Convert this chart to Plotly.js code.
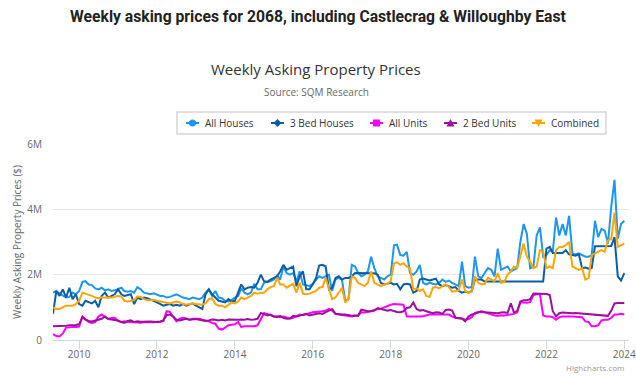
<!DOCTYPE html>
<html>
<head>
<meta charset="utf-8">
<script src="https://cdn.plot.ly/plotly-3.0.1.min.js"></script>
<style>
  html, body { margin: 0; padding: 0; background: #fff; }
  #chart { width: 636px; height: 376px; }
</style>
</head>
<body>
<div id="chart"></div>
<script>
// Monthly readings (millions of $), first point May 2009, last point Jan 2024.
var startYear = 2009, startMonth = 5;

var allHouses = [
  1.45,1.50,1.42,1.35,1.30,1.32,1.45,1.40,                       // 2009 May-Dec
  1.50,1.78,1.80,1.70,1.68,1.58,1.55,1.60,1.52,1.55,1.50,1.52,   // 2010
  1.55,1.60,1.50,1.48,1.50,1.45,1.62,1.55,1.45,1.42,1.40,1.43,   // 2011
  1.40,1.35,1.35,1.30,1.32,1.35,1.40,1.35,1.30,1.28,1.25,1.30,   // 2012
  1.28,1.25,1.30,1.45,1.55,1.35,1.50,1.30,1.28,1.20,1.18,1.22,   // 2013
  1.30,1.35,1.58,1.45,1.40,1.45,1.72,1.55,1.55,1.75,1.78,1.80,   // 2014
  1.85,1.98,1.85,2.25,2.05,2.00,2.05,1.80,2.10,1.70,1.68,1.65,   // 2015
  1.72,1.85,1.95,1.90,1.95,2.00,1.50,1.85,1.90,1.85,1.20,1.25,   // 2016
  2.30,2.25,2.05,1.95,2.00,2.10,2.55,2.20,1.95,1.90,1.85,1.95,   // 2017
  2.00,2.90,2.92,2.60,2.58,2.70,2.05,2.00,2.10,2.30,1.75,1.70,   // 2018
  1.75,1.72,1.70,1.75,1.85,1.78,1.82,1.75,1.70,1.65,2.40,1.65,   // 2019
  1.60,1.62,2.55,1.95,1.90,2.05,2.20,2.15,1.95,2.80,2.15,2.20,   // 2020
  2.25,2.10,2.15,2.20,3.00,3.55,3.25,2.20,2.25,3.20,3.45,2.55,   // 2021
  2.60,2.75,2.70,3.75,3.20,3.55,3.20,3.80,2.65,2.62,2.65,2.60,   // 2022
  2.55,2.55,2.60,3.65,3.15,3.40,3.35,2.95,4.10,4.90,3.10,3.55,   // 2023
  3.65                                                           // 2024 Jan
];

var threeBedHouses = [
  0.80,1.50,1.35,1.55,1.30,1.60,1.25,1.40,
  1.10,1.05,1.20,1.15,1.12,1.20,1.00,1.35,1.45,1.30,1.35,1.40,
  1.55,1.40,1.35,1.38,1.40,1.10,1.30,1.25,1.30,1.28,1.25,1.20,
  1.15,1.10,1.05,1.08,1.10,1.05,1.08,1.05,1.10,1.05,1.08,1.12,
  1.05,1.00,0.95,1.40,1.55,1.40,1.30,1.20,1.18,1.15,1.25,1.18,
  1.20,1.45,1.70,1.55,1.60,1.62,1.60,1.75,2.00,1.80,1.78,1.85,
  1.90,1.95,2.10,2.30,2.15,2.20,2.25,1.65,1.95,2.10,1.55,1.55,
  1.70,1.90,2.28,2.30,2.25,1.55,1.60,1.90,1.95,1.85,1.90,1.90,
  1.95,2.05,2.05,2.05,2.06,2.05,2.05,2.04,2.00,1.75,1.70,1.72,
  1.75,1.70,1.72,1.55,1.70,1.72,1.70,1.45,1.50,1.85,1.88,1.85,
  1.82,1.85,1.88,1.70,1.65,1.68,1.65,1.60,1.62,1.50,1.45,1.48,
  1.45,1.50,1.85,1.85,1.85,1.79,1.79,1.79,1.79,1.79,1.79,1.79,
  1.79,1.79,1.79,1.79,1.79,1.79,1.79,1.79,1.79,1.79,1.79,1.79,
  2.80,2.85,2.66,2.66,2.66,2.66,2.75,2.62,2.60,2.58,2.62,2.20,
  2.22,2.18,2.20,2.87,2.87,2.87,2.87,2.87,2.88,3.15,1.95,1.82,
  2.05
];

var allUnits = [
  0.18,0.12,0.11,0.20,0.38,0.40,0.40,0.40,
  0.41,0.72,0.65,0.55,0.52,0.55,0.72,0.78,0.70,0.65,0.67,0.68,
  0.58,0.55,0.57,0.56,0.54,0.55,0.54,0.53,0.55,0.54,0.55,0.54,
  0.56,0.55,0.58,0.88,0.86,0.70,0.57,0.65,0.68,0.66,0.62,0.65,
  0.65,0.65,0.62,0.60,0.57,0.52,0.50,0.35,0.32,0.38,0.45,0.47,
  0.48,0.55,0.40,0.42,0.42,0.40,0.42,0.45,0.62,0.82,0.80,0.75,
  0.72,0.73,0.70,0.72,0.68,0.66,0.68,0.72,0.78,0.76,0.80,0.82,
  0.85,0.86,0.85,0.88,0.90,0.95,0.90,0.80,0.78,0.76,0.75,0.73,
  0.72,0.74,0.75,0.85,0.84,0.86,0.88,0.92,0.95,0.96,1.00,1.05,
  1.08,1.10,1.10,1.08,1.08,0.72,0.72,0.70,0.71,0.72,0.73,0.76,
  0.78,0.78,0.78,0.80,0.78,0.80,0.78,0.72,0.68,0.67,0.66,0.62,
  0.64,0.70,0.83,0.85,0.86,0.85,0.82,0.78,0.75,0.74,0.76,0.75,
  0.76,0.78,0.80,0.85,1.15,1.15,1.14,1.16,1.38,1.40,1.40,0.75,
  0.72,0.72,0.70,0.62,0.70,0.72,0.73,0.72,0.72,0.71,0.72,0.70,
  0.57,0.55,0.42,0.42,0.45,0.60,0.62,0.62,0.68,0.78,0.78,0.80,
  0.78
];

var twoBedUnits = [
  0.42,0.42,0.43,0.44,0.44,0.45,0.45,0.46,
  0.48,0.70,0.62,0.58,0.57,0.60,0.62,0.65,0.72,0.64,0.63,0.62,
  0.60,0.55,0.52,0.58,0.60,0.55,0.57,0.56,0.57,0.58,0.57,0.56,
  0.55,0.57,0.60,0.76,0.78,0.72,0.62,0.60,0.62,0.65,0.62,0.63,
  0.64,0.62,0.60,0.58,0.60,0.63,0.62,0.60,0.62,0.60,0.63,0.62,
  0.63,0.62,0.63,0.62,0.64,0.62,0.63,0.65,0.83,0.80,0.75,0.78,
  0.72,0.70,0.74,0.68,0.65,0.66,0.74,0.72,0.75,0.78,0.80,0.75,
  0.78,0.80,0.82,0.80,0.85,0.92,0.95,0.80,0.78,0.78,0.78,0.76,
  0.74,0.75,0.74,0.93,0.90,0.88,0.88,0.90,0.98,0.96,0.92,0.90,
  0.92,0.88,0.86,0.85,0.88,0.98,1.00,1.15,0.95,0.90,0.92,0.88,
  0.85,0.82,0.85,0.84,0.80,0.92,0.93,0.90,0.68,0.66,0.65,0.57,
  0.72,0.78,0.80,0.85,0.88,0.85,0.84,0.83,0.83,0.82,0.84,0.85,
  0.83,1.12,0.85,0.88,1.18,1.22,1.22,1.25,1.42,1.42,1.43,1.42,
  1.41,1.38,0.88,0.72,0.82,0.84,0.83,0.84,0.82,0.83,0.82,0.82,
  0.80,0.80,0.79,0.78,0.78,0.76,0.75,0.74,0.90,1.12,1.13,1.12,
  1.13
];

var combined = [
  1.00,0.95,0.95,1.00,1.05,1.05,1.05,1.10,
  1.20,1.45,1.42,1.40,1.35,1.30,1.28,1.30,1.30,1.28,1.30,1.32,
  1.35,1.33,1.20,1.18,1.20,1.22,1.33,1.32,1.25,1.22,1.22,1.23,
  1.20,1.18,1.15,1.15,1.12,1.15,1.18,1.15,1.10,1.08,1.10,1.12,
  1.10,1.10,1.08,1.12,1.25,1.28,1.10,1.05,1.05,1.00,1.08,1.15,
  1.12,1.18,1.30,1.25,1.30,1.35,1.45,1.42,1.45,1.45,1.55,1.62,
  1.65,1.90,1.70,1.70,1.60,1.65,1.72,1.45,1.75,1.42,1.40,1.42,
  1.45,1.50,1.60,1.62,1.90,1.55,1.25,1.30,1.45,1.60,1.15,1.25,
  1.95,1.90,1.75,1.70,1.65,1.75,2.10,1.75,1.70,1.65,1.70,1.72,
  1.80,2.35,2.38,2.30,2.35,2.25,2.20,1.55,1.58,1.50,1.55,1.35,
  1.32,1.60,1.62,1.58,1.65,1.70,1.62,1.48,1.50,1.52,1.85,1.50,
  1.45,1.48,1.95,1.75,1.70,1.72,1.90,1.85,1.80,2.05,1.75,1.78,
  2.00,2.10,2.25,2.20,2.60,2.95,2.55,2.40,2.20,2.25,2.75,2.70,
  2.20,2.25,2.20,2.75,2.85,2.85,2.90,3.00,2.25,2.20,2.15,2.20,
  1.85,1.90,2.60,2.65,2.70,2.75,2.70,3.05,3.10,3.90,2.85,2.90,
  2.95
];

var seriesNames = ['All Houses', '3 Bed Houses', 'All Units', '2 Bed Units', 'Combined'];
var seriesColors = ['#1e96f0', '#0b5ea6', '#ff00ff', '#9e0f9e', '#ffa500'];
var seriesSymbols = ['circle', 'diamond', 'square', 'triangle-up', 'triangle-down'];
var seriesValues = [allHouses, threeBedHouses, allUnits, twoBedUnits, combined];

var yTickVals = [0, 2, 4, 6];
var yTickText = ['0', '2M', '4M', '6M'];

// month dates
var dates = [];
for (var i = 0; i < allHouses.length; i++) {
  var mm = startMonth - 1 + i;
  var yy = startYear + Math.floor(mm / 12);
  var mo = (mm % 12) + 1;
  dates.push(yy + '-' + (mo < 10 ? '0' + mo : mo) + '-01');
}

var traces = [];
for (var s = 0; s < seriesNames.length; s++) {
  traces.push({
    type: 'scatter', mode: 'lines',
    x: dates, y: seriesValues[s],
    name: seriesNames[s], showlegend: false,
    line: { color: seriesColors[s], width: 2 },
    hoverinfo: 'x+y+name'
  });
}

// ---- Layout geometry (pixels) ----
var W = 636, H = 376;
var M = { l: 53, r: 7, t: 144, b: 36 };
var PW = W - M.l - M.r, PH = H - M.t - M.b;
function px(x) { return (x - M.l) / PW; }
function py(y) { return (M.t + PH - y) / PH; }

// Custom legend (Highcharts style): box + line/marker symbol + label per series
var legendBox = { x0: 177, x1: 606, y0: 112, y1: 134 };
var legendSymbolX = [186, 271, 370, 444, 532];
var legendRowY = 123;
var shapes = [];
var annotations = [];
shapes.push({ type: 'rect', xref: 'paper', yref: 'paper',
  x0: px(legendBox.x0), x1: px(legendBox.x1), y0: py(legendBox.y1), y1: py(legendBox.y0),
  line: { color: '#d6d6d6', width: 1.5 }, fillcolor: 'rgba(0,0,0,0)', layer: 'above' });

function markerPath(sym, cx, cy) {
  var r = 3.6, pts;
  if (sym === 'circle') {
    var p = [];
    for (var k = 0; k < 16; k++) {
      var a = k / 16 * 2 * Math.PI;
      p.push([cx + r * Math.cos(a), cy + r * Math.sin(a)]);
    }
    pts = p;
  } else if (sym === 'diamond') {
    pts = [[cx, cy - 4], [cx + 4, cy], [cx, cy + 4], [cx - 4, cy]];
  } else if (sym === 'square') {
    pts = [[cx - 3.5, cy - 3.5], [cx + 3.5, cy - 3.5], [cx + 3.5, cy + 3.5], [cx - 3.5, cy + 3.5]];
  } else if (sym === 'triangle-up') {
    pts = [[cx, cy - 4], [cx + 4, cy + 3.5], [cx - 4, cy + 3.5]];
  } else {
    pts = [[cx - 4, cy - 3.5], [cx + 4, cy - 3.5], [cx, cy + 4]];
  }
  var d = '';
  for (var j = 0; j < pts.length; j++) {
    d += (j === 0 ? 'M' : 'L') + px(pts[j][0]).toFixed(5) + ',' + py(pts[j][1]).toFixed(5);
  }
  return d + 'Z';
}

for (var L = 0; L < seriesNames.length; L++) {
  var sx = legendSymbolX[L];
  shapes.push({ type: 'line', xref: 'paper', yref: 'paper',
    x0: px(sx), x1: px(sx + 13), y0: py(legendRowY), y1: py(legendRowY),
    line: { color: seriesColors[L], width: 2 }, layer: 'above' });
  shapes.push({ type: 'path', xref: 'paper', yref: 'paper',
    path: markerPath(seriesSymbols[L], sx + 6.5, legendRowY),
    fillcolor: seriesColors[L], line: { color: seriesColors[L], width: 0 }, layer: 'above' });
  annotations.push({ text: seriesNames[L], xref: 'paper', yref: 'paper',
    x: px(sx + 17), y: py(legendRowY), xanchor: 'left', yanchor: 'middle', showarrow: false,
    font: { size: 10, color: '#333333' } });
}

annotations.push(
  { text: 'Weekly Asking Property Prices', xref: 'paper', yref: 'paper',
    x: px(316), y: py(69), xanchor: 'center', yanchor: 'middle', showarrow: false,
    font: { size: 15, color: '#333333' } },
  { text: 'Source: SQM Research', xref: 'paper', yref: 'paper',
    x: px(316), y: py(92), xanchor: 'center', yanchor: 'middle', showarrow: false,
    font: { size: 10, color: '#666666' } },
  { text: 'Highcharts.com', xref: 'paper', yref: 'paper',
    x: px(626), y: py(367), xanchor: 'right', yanchor: 'middle', showarrow: false,
    font: { size: 8, color: '#999999' } }
);

var layout = {
  width: W, height: H,
  margin: { l: M.l, r: M.r, t: M.t, b: M.b, pad: 0, autoexpand: false },
  paper_bgcolor: '#ffffff', plot_bgcolor: '#ffffff',
  font: { family: 'Open Sans, sans-serif', color: '#666666', size: 11 },
  showlegend: false,
  title: {
    text: 'Weekly asking prices for 2068, including Castlecrag &amp; Willoughby East',
    font: { family: 'Roboto, Arial, sans-serif', size: 15.7, weight: 700, color: '#222222' },
    xref: 'container', x: 0.5, xanchor: 'center',
    yref: 'container', y: 1 - 17 / 376, yanchor: 'middle'
  },
  xaxis: {
    type: 'date',
    range: ['2009-05-01', '2024-02-14'],
    tickmode: 'linear', tick0: '2010-01-01', dtick: 'M24', tickformat: '%Y',
    showgrid: false, zeroline: false,
    showline: true, linecolor: '#ccd6eb', linewidth: 1,
    ticks: 'outside', ticklen: 8, tickcolor: '#ccd6eb', tickwidth: 1,
    ticklabelstandoff: -3, ticklabeloverflow: 'allow',
    tickfont: { size: 10, color: '#666666' }
  },
  yaxis: {
    range: [0, 6],
    tickvals: yTickVals, ticktext: yTickText,
    showgrid: true, gridcolor: '#e6e6e6', gridwidth: 1,
    zeroline: false, showline: false,
    ticks: '', ticklabelstandoff: 10,
    tickfont: { size: 10, color: '#666666' },
    title: { text: 'Weekly Asking Property Prices ($)', font: { size: 10, color: '#666666' }, standoff: 3 }
  },
  shapes: shapes,
  annotations: annotations
};

Plotly.newPlot('chart', traces, layout, { displayModeBar: false, staticPlot: true });
</script>
</body>
</html>
